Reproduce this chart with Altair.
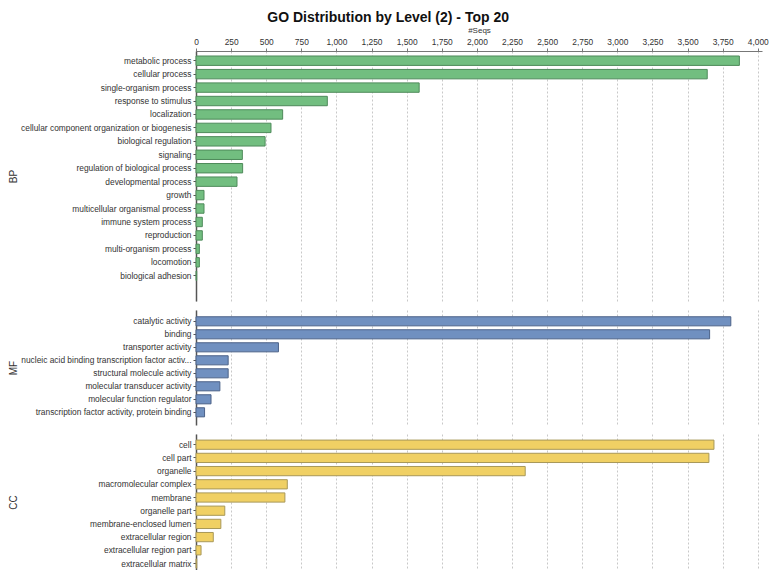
import altair as alt
import pandas as pd

# ---------------- data ----------------
bp_terms = ["metabolic process", "cellular process", "single-organism process",
            "response to stimulus", "localization",
            "cellular component organization or biogenesis", "biological regulation",
            "signaling", "regulation of biological process", "developmental process",
            "growth", "multicellular organismal process", "immune system process",
            "reproduction", "multi-organism process", "locomotion", "biological adhesion"]
bp_seqs = [3869, 3640, 1589, 935, 617, 534, 492, 330, 332, 292, 57, 57, 45, 45, 24, 24, 5]

mf_terms = ["catalytic activity", "binding", "transporter activity",
            "nucleic acid binding transcription factor activ...",
            "structural molecule activity", "molecular transducer activity",
            "molecular function regulator",
            "transcription factor activity, protein binding"]
mf_seqs = [3808, 3657, 587, 229, 229, 170, 107, 61]

cc_terms = ["cell", "cell part", "organelle", "macromolecular complex", "membrane",
            "organelle part", "membrane-enclosed lumen", "extracellular region",
            "extracellular region part", "extracellular matrix"]
cc_seqs = [3688, 3652, 2344, 650, 633, 205, 177, 123, 36, 5]

tick_values = [0, 250, 500, 750, 1000, 1250, 1500, 1750, 2000, 2250, 2500, 2750,
               3000, 3250, 3500, 3750, 4000]

FONT = "Liberation Sans"
PIN = 0.3
WIDTH = 566
XDOMAIN = [0, 4030]


def band_props(height, n, step, first_offset):
    used = step * (n - PIN)
    extra = height - used
    align = (first_offset - step * (1 - PIN) / 2) / extra
    pout = (height / step - (n - PIN)) / 2
    return min(1.0, max(0.0, pout)), max(0.0, min(1.0, align))


def panel(terms, seqs, group, fill, stroke, height, step, first_offset, top_axis):
    df = pd.DataFrame({"term": terms, "seqs": seqs})
    pout, align = band_props(height, len(terms), step, first_offset)
    xscale = alt.Scale(domain=XDOMAIN, nice=False, zero=True)
    if top_axis:
        xaxis = alt.Axis(orient="top", values=tick_values, format=",d", title="#Seqs",
                         titleFontSize=8, titleFontWeight="normal", titleFont=FONT,
                         titleColor="#333", titlePadding=3,
                         labelFontSize=8.4, labelFont=FONT, labelColor="#333",
                         labelPadding=2, tickSize=3, tickColor="#777",
                         domainColor="#777", grid=True, gridDash=[2, 2],
                         gridColor="#c8c8c8", labelFlush=False)
        x = alt.X("seqs:Q", axis=xaxis, scale=xscale)
    else:
        xaxis = alt.Axis(orient="top", values=tick_values, labels=False, ticks=False,
                         domain=False, grid=True, gridDash=[2, 2], gridColor="#c8c8c8")
        x = alt.X("seqs:Q", axis=xaxis, title=None, scale=xscale)
    yaxis = alt.Axis(title=group, titleX=-178, titleY=height / 2, titleAngle=270,
                     titleAlign="center", titleBaseline="bottom",
                     titleFontSize=10, titleFontWeight="normal", titleFont=FONT,
                     titleColor="#333",
                     labelFontSize=8.4, labelFont=FONT, labelColor="#333",
                     labelLimit=220, labelPadding=2, tickSize=3, tickColor="#555",
                     domainColor="#555", domainWidth=1.5, grid=False)
    y = alt.Y("term:N", sort=terms, axis=yaxis,
              scale=alt.Scale(domain=terms, paddingInner=PIN, paddingOuter=pout,
                              align=align, round=False))
    return (alt.Chart(df)
            .mark_bar(fill=fill, stroke=stroke, strokeWidth=1)
            .encode(x=x, y=y, tooltip=["term", "seqs"])
            .properties(width=WIDTH, height=height))


bp = panel(bp_terms, bp_seqs, "BP", "#72be80", "#4e8a5a", 250, 13.44, 9.7, True)
mf = panel(mf_terms, mf_seqs, "MF", "#7090c0", "#4c6288", 115, 13.0, 11.3, False)
cc = panel(cc_terms, cc_seqs, "CC", "#f0d064", "#a89858", 136, 13.2, 10.7, False)

chart = (alt.vconcat(bp, mf, cc, spacing=9)
         .properties(title=alt.TitleParams("GO Distribution by Level (2) - Top 20",
                                           font=FONT, fontSize=14, fontWeight="bold",
                                           color="#111", anchor="middle", offset=1),
                     padding={"left": 0, "top": 3, "right": 0, "bottom": 0},
                     background="white")
         .configure_view(stroke="transparent", strokeWidth=0))

chart.save("out.html", embed_options={"renderer": "svg", "actions": False})
